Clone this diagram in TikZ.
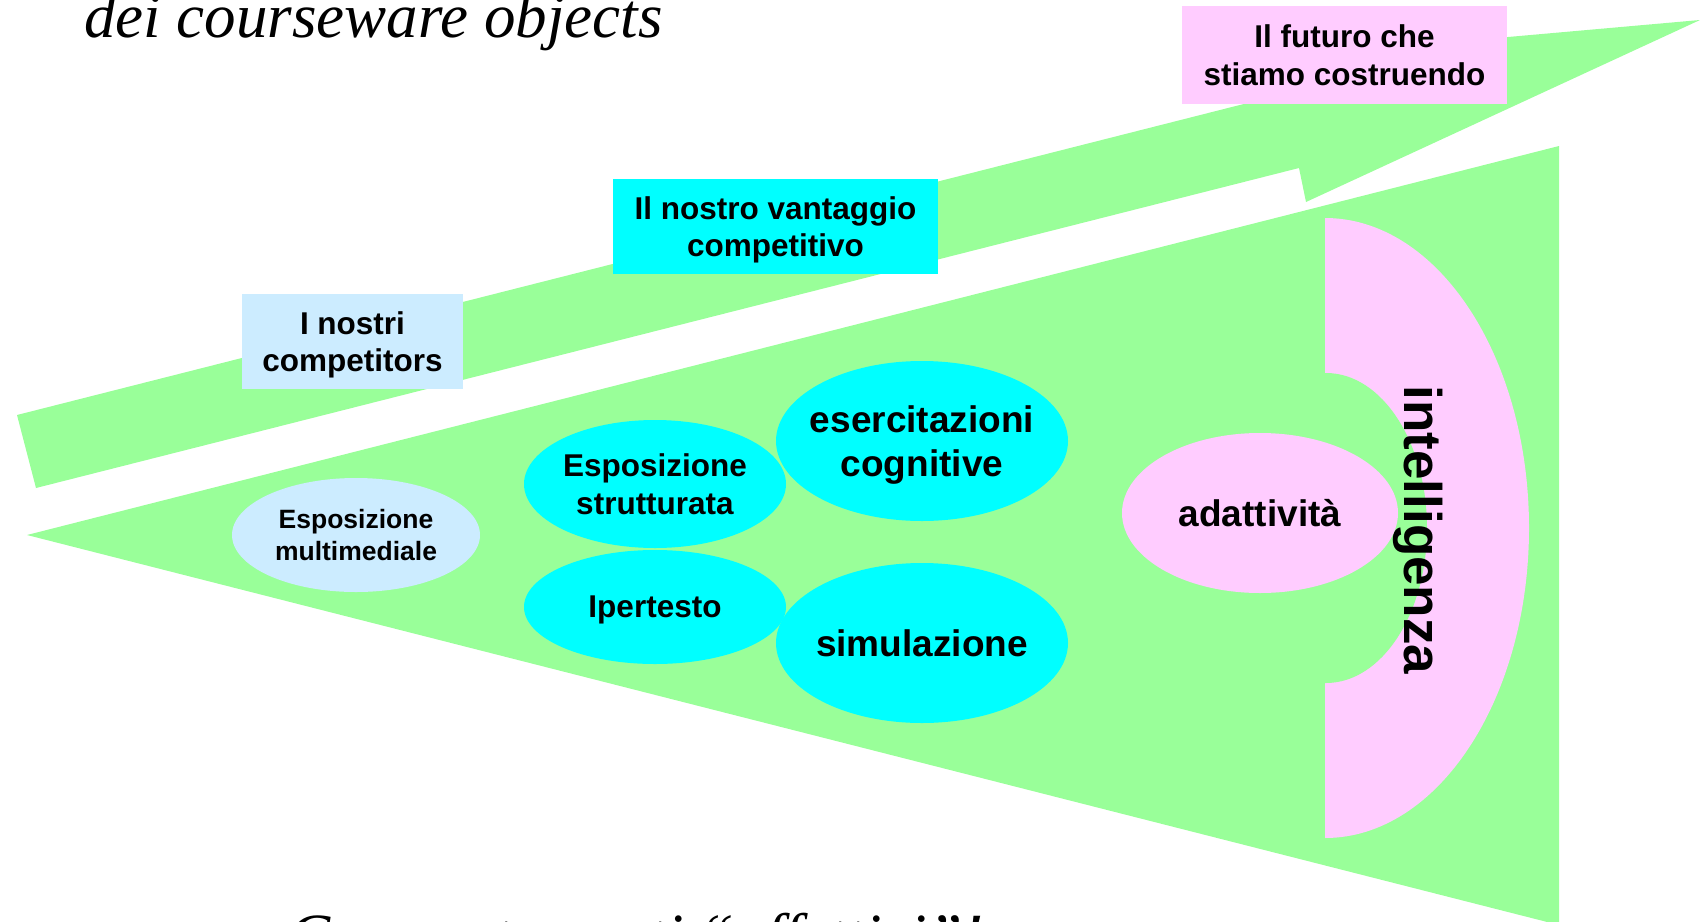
\documentclass[tikz,border=0pt]{standalone}
\usepackage{fontspec}
\setmainfont{Liberation Sans}
\newfontfamily\slidefont{Liberation Serif}
\usetikzlibrary{shapes.geometric}
\definecolor{lightgreen}{HTML}{99FF99}
\definecolor{lightpink}{HTML}{FFCCFF}
\definecolor{lightblue}{HTML}{CCECFF}
\definecolor{brightcyan}{HTML}{00FFFF}
\begin{document}
\begin{tikzpicture}
[x=1pt,y=-1pt,
  boxdecorate/.style={shape=rectangle,inner sep=0pt,align=center,text depth=0pt,%
    font=\bfseries\fontsize{31.5}{37.8}\selectfont},%
  ovaldecorate/.style={inner sep=0pt,align=center,text depth=0pt},%
  titledecorate/.style={inner sep=0pt,anchor=base west,%
    font=\slidefont\itshape\fontsize{63}{70}\selectfont}]
\useasboundingbox (0,0) rectangle (1700,921);
\clip (0,0) rectangle (1700,921);
%% green arrow and green wedge
\fill [lightgreen] (17,415) -- (1508,37) -- (1700,20) -- (1306,202)
  -- (1299,168) -- (36,488) -- cycle;
\fill [lightgreen] (27,535) -- (1559,146) -- (1559,925) -- cycle;
%% half ring
\fill [lightpink] (1325,218) arc [start angle=-90,end angle=90,
  x radius=204,y radius=310] -- cycle;
\fill [lightgreen] (1318,373) -- (1326,373) arc [start angle=-90,end angle=90,
  x radius=101,y radius=155] -- (1318,683) -- cycle;
\node (intelligenza) at (1418,530) [rotate=-90,inner sep=0pt,
  font=\bfseries\fontsize{53}{60}\selectfont] {intelligenza};
%% ovals
\foreach \nodename/\x/\y/\rx/\ry/\tint/\fsize/\lskip/\words in {
  multimediale/356/535/124/57/lightblue/26.5/31.5/{Esposizione\\multimediale},
  strutturata/655/484/131/64/brightcyan/31.5/37.8/{Esposizione\\strutturata},
  ipertesto/655/607/131/57/brightcyan/31.5/37.8/{Ipertesto},
  esercitazioni/922/441/146/80/brightcyan/37/44.4/{esercitazioni\\cognitive},
  simulazione/922/643/146/80/brightcyan/37/44.4/{simulazione},
  adattivita/1260/513/138/80/lightpink/37/44.4/{adattività}}
{
  \fill [\tint] (\x,\y) ellipse [x radius=\rx,y radius=\ry];
  \node (\nodename) at (\x,\y) [ovaldecorate,
    font=\bfseries\fontsize{\fsize}{\lskip}\selectfont] {\words};
}
%% boxes
\node (competitors) at (352.5,341.5) [boxdecorate,fill=lightblue,
  minimum width=221pt,minimum height=95pt] {I nostri\\competitors};
\node (vantaggio) at (775.5,226.5) [boxdecorate,fill=brightcyan,
  minimum width=325pt,minimum height=95pt] {Il nostro vantaggio\\competitivo};
\node (futuro) at (1344.5,55) [boxdecorate,fill=lightpink,
  minimum width=325pt,minimum height=98pt] {Il futuro che\\stiamo costruendo};
%% slide texts, cut by the page
\node (titolo) at (84,37) [titledecorate] {dei courseware objects};
\node (motto) at (288,957) [titledecorate] {Comportamenti “affettivi”!};
\end{tikzpicture}
\end{document}
